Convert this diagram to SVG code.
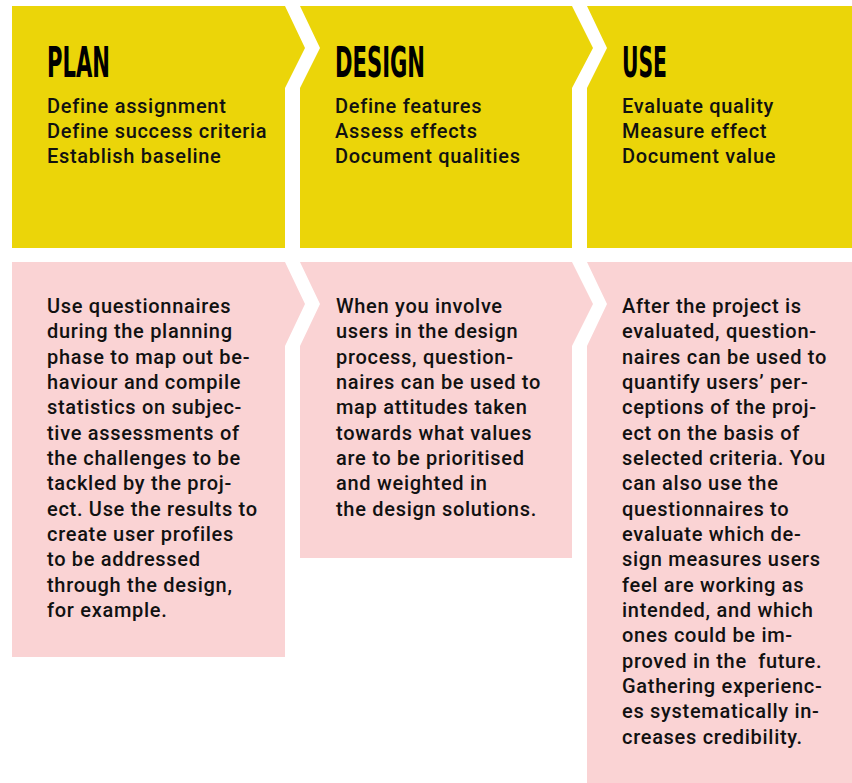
<svg xmlns="http://www.w3.org/2000/svg" width="852" height="783" viewBox="0 0 852 783">
<style>
.y{fill:#EBD509}
.p{fill:#FAD3D4}
.t{font-family:"Liberation Sans Narrow","DejaVu Sans Condensed","Liberation Sans",sans-serif;font-weight:bold;font-size:43px;fill:#000}
.b{font-family:Roboto,"Liberation Sans",sans-serif;font-weight:500;font-size:20px;fill:#111;letter-spacing:0.7px}
</style>
<rect width="852" height="783" fill="#fff"/>
<g id="plan">
<polygon class="y" points="12,6 285,6 305,48 285,88 285,248 12,248"/>
<text class="t" x="47" y="77" textLength="63" lengthAdjust="spacingAndGlyphs">PLAN</text>
<text class="b" x="47" y="112.5">
<tspan x="47" dy="0">Define assignment</tspan>
<tspan x="47" dy="25">Define success criteria</tspan>
<tspan x="47" dy="25">Establish baseline</tspan>
</text>
</g>
<g id="design">
<polygon class="y" points="300,6 572,6 593,48 572,88 572,248 300,248 300,88 320,48"/>
<text class="t" x="335" y="77" textLength="90" lengthAdjust="spacingAndGlyphs">DESIGN</text>
<text class="b" x="335" y="112.5">
<tspan x="335" dy="0">Define features</tspan>
<tspan x="335" dy="25">Assess effects</tspan>
<tspan x="335" dy="25">Document qualities</tspan>
</text>
</g>
<g id="use">
<polygon class="y" points="587,6 852,6 852,248 587,248 587,88 607,48"/>
<text class="t" x="622" y="77" textLength="45" lengthAdjust="spacingAndGlyphs">USE</text>
<text class="b" x="622" y="112.5">
<tspan x="622" dy="0">Evaluate quality</tspan>
<tspan x="622" dy="25">Measure effect</tspan>
<tspan x="622" dy="25">Document value</tspan>
</text>
</g>
<g id="plan-detail">
<polygon class="p" points="12,262 285,262 305,304 285,346 285,657 12,657"/>
<text class="b" x="47" y="313">
<tspan x="47" dy="0">Use questionnaires</tspan>
<tspan x="47" dy="25.33">during the planning</tspan>
<tspan x="47" dy="25.33">phase to map out be-</tspan>
<tspan x="47" dy="25.33">haviour and compile</tspan>
<tspan x="47" dy="25.33">statistics on subjec-</tspan>
<tspan x="47" dy="25.33">tive assessments of</tspan>
<tspan x="47" dy="25.33">the challenges to be</tspan>
<tspan x="47" dy="25.33">tackled by the proj-</tspan>
<tspan x="47" dy="25.33">ect. Use the results to</tspan>
<tspan x="47" dy="25.33">create user profiles</tspan>
<tspan x="47" dy="25.33">to be addressed</tspan>
<tspan x="47" dy="25.33">through the design,</tspan>
<tspan x="47" dy="25.33">for example.</tspan>
</text>
</g>
<g id="design-detail">
<polygon class="p" points="300,262 572,262 593,304 572,346 572,558 300,558 300,346 320,304"/>
<text class="b" x="336" y="313">
<tspan x="336" dy="0">When you involve</tspan>
<tspan x="336" dy="25.33">users in the design</tspan>
<tspan x="336" dy="25.33">process, question-</tspan>
<tspan x="336" dy="25.33">naires can be used to</tspan>
<tspan x="336" dy="25.33">map attitudes taken</tspan>
<tspan x="336" dy="25.33">towards what values</tspan>
<tspan x="336" dy="25.33">are to be prioritised</tspan>
<tspan x="336" dy="25.33">and weighted in</tspan>
<tspan x="336" dy="25.33">the design solutions.</tspan>
</text>
</g>
<g id="use-detail">
<polygon class="p" points="587,262 852,262 852,783 587,783 587,346 607,304"/>
<text class="b" x="622" y="313" xml:space="preserve"><tspan x="622" dy="0">After the project is</tspan><tspan x="622" dy="25.33">evaluated, question-</tspan><tspan x="622" dy="25.33">naires can be used to</tspan><tspan x="622" dy="25.33">quantify users’ per-</tspan><tspan x="622" dy="25.33">ceptions of the proj-</tspan><tspan x="622" dy="25.33">ect on the basis of</tspan><tspan x="622" dy="25.33">selected criteria. You</tspan><tspan x="622" dy="25.33">can also use the</tspan><tspan x="622" dy="25.33">questionnaires to</tspan><tspan x="622" dy="25.33">evaluate which de-</tspan><tspan x="622" dy="25.33">sign measures users</tspan><tspan x="622" dy="25.33">feel are working as</tspan><tspan x="622" dy="25.33">intended, and which</tspan><tspan x="622" dy="25.33">ones could be im-</tspan><tspan x="622" dy="25.33">proved in the  future.</tspan><tspan x="622" dy="25.33">Gathering experienc-</tspan><tspan x="622" dy="25.33">es systematically in-</tspan><tspan x="622" dy="25.33">creases credibility.</tspan></text>
</g>
<g id="connectors"></g>
</svg>
